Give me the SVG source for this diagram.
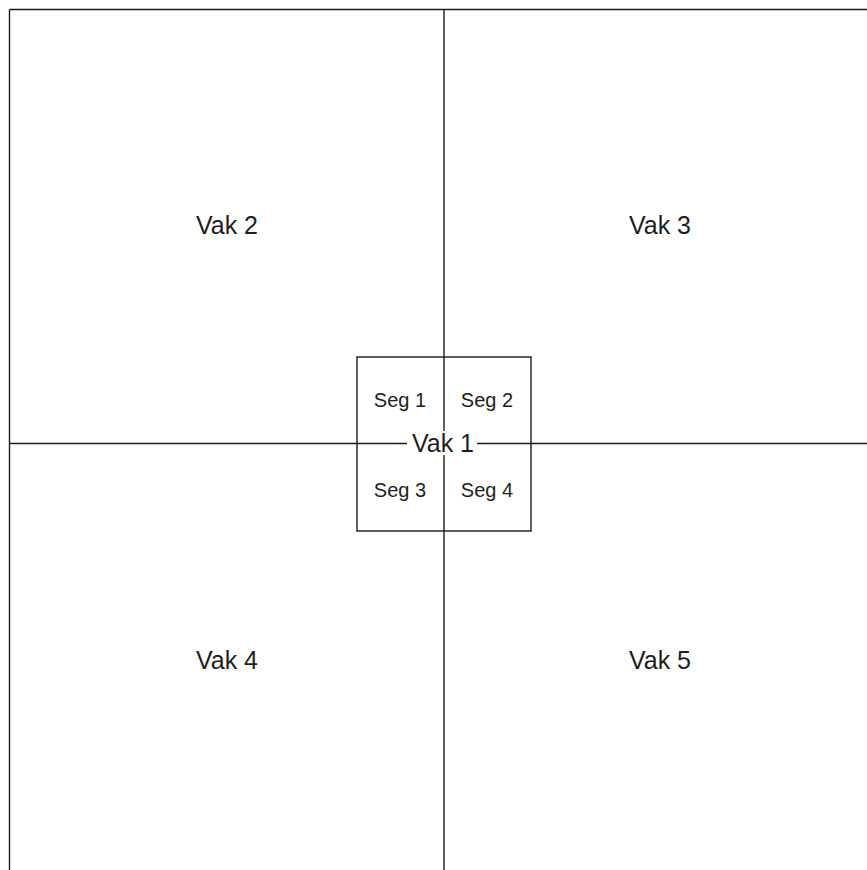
<svg xmlns="http://www.w3.org/2000/svg" width="867" height="870" viewBox="0 0 867 870">
<style>
.ln{stroke:#1a1a1a;stroke-width:1.4;fill:none}
.big{font-family:"Liberation Sans",Arial,sans-serif;font-size:25px;fill:#1e1e1e;text-anchor:middle}
.sm{font-family:"Liberation Sans",Arial,sans-serif;font-size:20px;fill:#1e1e1e;text-anchor:middle}
</style>
<rect width="867" height="870" fill="#fff"/>
<g id="connectors">
<line class="ln" x1="9.5" y1="9.5" x2="867" y2="9.5"/>
<line class="ln" x1="9.5" y1="9.5" x2="9.5" y2="870"/>
<line class="ln" x1="444" y1="9.5" x2="444" y2="870"/>
<line class="ln" x1="9.5" y1="443.5" x2="867" y2="443.5"/>
</g>
<g id="vak2"><text class="big" x="227" y="234">Vak 2</text></g>
<g id="vak3"><text class="big" x="660" y="234">Vak 3</text></g>
<g id="vak4"><text class="big" x="227" y="669">Vak 4</text></g>
<g id="vak5"><text class="big" x="660" y="669">Vak 5</text></g>
<g id="vak1">
<rect class="ln" x="357" y="357" width="174" height="174"/>
<text class="sm" x="400" y="407">Seg 1</text>
<text class="sm" x="487" y="407">Seg 2</text>
<text class="sm" x="400" y="497">Seg 3</text>
<text class="sm" x="487" y="497">Seg 4</text>
<rect x="407" y="431" width="70" height="24" fill="#fff"/>
<text class="big" x="443" y="452">Vak 1</text>
</g>
</svg>
